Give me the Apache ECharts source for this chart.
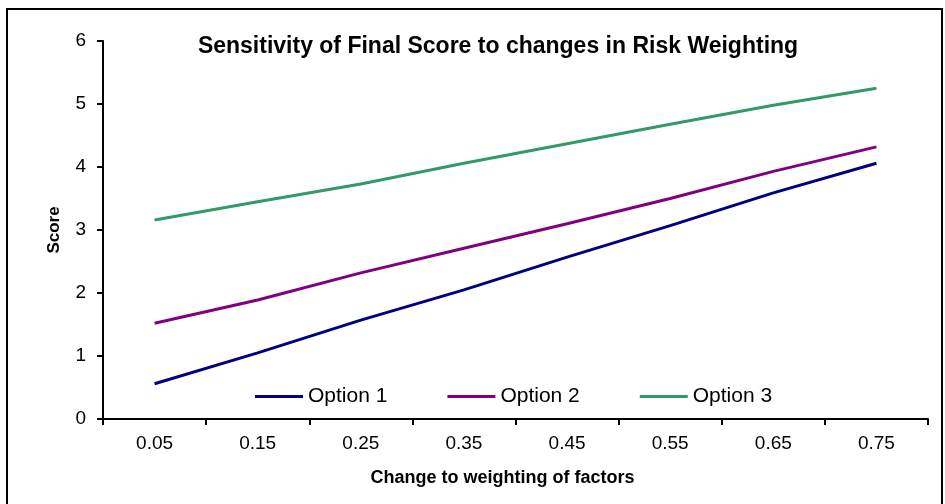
<!DOCTYPE html>
<html>
<head>
<meta charset="utf-8">
<script src="https://cdn.jsdelivr.net/npm/echarts@6/dist/echarts.min.js"></script>
<style>
  html, body { margin: 0; padding: 0; background: #fff; }
  #chart { width: 945px; height: 504px; }
</style>
</head>
<body>
<div id="chart"></div>
<script>
// Weighting change steps (x axis categories)
const weightings = ['0.05', '0.15', '0.25', '0.35', '0.45', '0.55', '0.65', '0.75'];

// Final scores
const option1 = [0.56, 1.05, 1.57, 2.05, 2.57, 3.07, 3.59, 4.06];
const option2 = [1.52, 1.89, 2.32, 2.71, 3.10, 3.50, 3.93, 4.32];
const option3 = [3.16, 3.45, 3.73, 4.06, 4.37, 4.68, 4.98, 5.25];

const seriesNames = ['Option 1', 'Option 2', 'Option 3'];
const seriesColors = ['#000080', '#800080', '#339966'];

const FONT = '"Liberation Sans", Arial, sans-serif';

const chart = echarts.init(document.getElementById('chart'));

function lineSeries(name, data, color) {
  return {
    name: name,
    type: 'line',
    data: data,
    symbol: 'none',
    smooth: false,
    lineStyle: { color: color, width: 3 },
    itemStyle: { color: color },
    emphasis: { disabled: true }
  };
}

chart.setOption({
  animation: false,
  backgroundColor: '#fff',
  title: {
    text: 'Sensitivity of Final Score to changes in Risk Weighting',
    left: 493,
    top: 30,
    textAlign: 'center',
    textStyle: { fontFamily: FONT, fontSize: 23, fontWeight: 'bold', color: '#000' }
  },
  legend: {
    data: seriesNames,
    left: 250,
    top: 381,
    icon: 'rect',
    itemWidth: 48,
    itemHeight: 3,
    itemGap: 60,
    textStyle: { fontFamily: FONT, fontSize: 21, color: '#000' }
  },
  grid: { left: 103, right: 17, top: 41, bottom: 85 },
  xAxis: {
    type: 'category',
    data: weightings,
    boundaryGap: true,
    name: 'Change to weighting of factors',
    nameLocation: 'middle',
    nameGap: 50,
    nameTextStyle: {
      fontFamily: FONT, fontSize: 18, fontWeight: 'bold', color: '#000',
      padding: [0, 26, 0, 0]
    },
    axisLine: { lineStyle: { color: '#000', width: 2 } },
    axisTick: { show: true, length: 6, lineStyle: { color: '#000', width: 2 } },
    axisLabel: { fontFamily: FONT, fontSize: 19, color: '#000', margin: 15 },
    splitLine: { show: false }
  },
  yAxis: {
    type: 'value',
    min: 0,
    max: 6,
    interval: 1,
    name: 'Score',
    nameLocation: 'middle',
    nameGap: 40,
    nameTextStyle: { fontFamily: FONT, fontSize: 17, fontWeight: 'bold', color: '#000' },
    axisLine: { show: true, lineStyle: { color: '#000', width: 2 } },
    axisTick: { show: true, length: 6, lineStyle: { color: '#000', width: 2 } },
    axisLabel: { fontFamily: FONT, fontSize: 19, color: '#000', margin: 17 },
    splitLine: { show: false }
  },
  graphic: [{
    type: 'rect',
    silent: true,
    shape: { x: 7, y: 9, width: 935, height: 500 },
    style: { fill: 'none', stroke: '#000', lineWidth: 2 }
  }],
  series: [
    lineSeries(seriesNames[0], option1, seriesColors[0]),
    lineSeries(seriesNames[1], option2, seriesColors[1]),
    lineSeries(seriesNames[2], option3, seriesColors[2])
  ]
});

window.addEventListener('resize', () => chart.resize());
</script>
</body>
</html>
